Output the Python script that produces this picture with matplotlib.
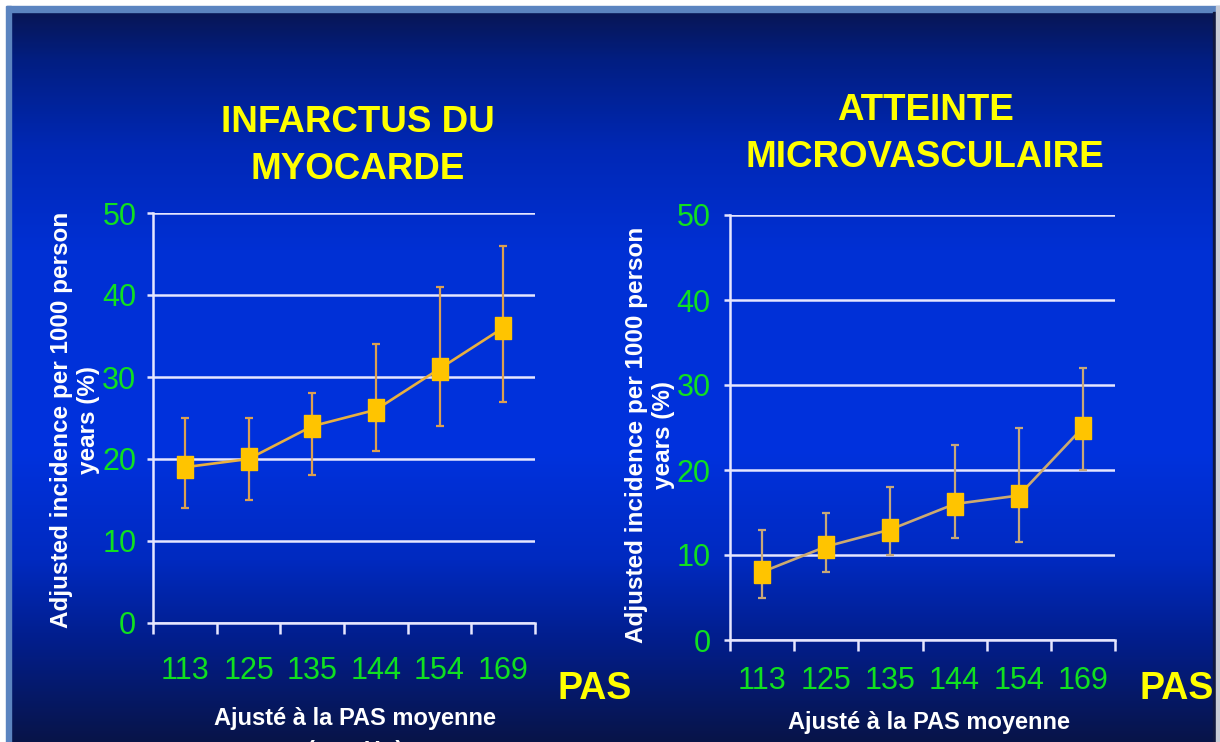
import numpy as np
import matplotlib
matplotlib.use("Agg")
import matplotlib.pyplot as plt
from matplotlib.patches import Rectangle

# ---------------- data ----------------
categories = ["113", "125", "135", "144", "154", "169"]

mi_values = [19, 20, 24, 26, 31, 36]
mi_low = [14, 15, 18, 21, 24, 27]
mi_high = [25, 25, 28, 34, 41, 46]

micro_values = [8, 11, 13, 16, 17, 25]
micro_low = [5, 8, 10, 12, 11.5, 20]
micro_high = [13, 15, 18, 23, 25, 32]

yticks = [0, 10, 20, 30, 40, 50]
title_left = "INFARCTUS DU\nMYOCARDE"
title_right = "ATTEINTE\nMICROVASCULAIRE"
ylabel = "Adjusted incidence per 1000 person\nyears (%)"
xlabel = "Ajusté à la PAS moyenne"
xlabel2 = "(mm Hg)"
pas_label = "PAS"

# ---------------- figure ----------------
W, H = 1220, 742
fig = plt.figure(figsize=(W / 100, H / 100), dpi=100)

def fx(px):
    return px / W

def fy(py):
    return 1 - py / H

# background gradient
bg = fig.add_axes([0, 0, 1, 1])
bg.set_axis_off()
stops_y = np.array([0, 12, 60, 150, 250, 450, 560, 640, 742]) / H
stops_c = np.array([
    [8, 22, 85], [8, 22, 85], [2, 30, 130], [0, 40, 182], [0, 48, 212],
    [0, 50, 222], [0, 42, 192], [2, 30, 140], [8, 20, 72]]) / 255.0
yy = np.linspace(0, 1, H)
grad = np.stack([np.interp(yy, stops_y, stops_c[:, k]) for k in range(3)], axis=-1)
grad = np.repeat(grad[:, None, :], 4, axis=1)
bg.imshow(grad, extent=[0, 1, 0, 1], aspect="auto", origin="upper", zorder=0)
bg.set_xlim(0, 1)
bg.set_ylim(0, 1)
# frame borders
bg.add_patch(Rectangle((0, fy(6)), 1, 6 / H, color="white", zorder=2))
bg.add_patch(Rectangle((0, fy(12)), 1, 6 / H, color="#5b84c0", zorder=2))
bg.add_patch(Rectangle((0, 0), fx(6), 1, color="white", zorder=3))
bg.add_patch(Rectangle((fx(6), 0), fx(5), fy(6), color="#5b84c0", zorder=3))
bg.add_patch(Rectangle((fx(1213), 0), fx(3), fy(12), color="#101840", zorder=3))
bg.add_patch(Rectangle((fx(1216), 0), fx(4), fy(6), color="#c8ccd6", zorder=3))

NARROW = ["Liberation Sans Narrow", "Liberation Sans", "DejaVu Sans"]
BOLD = ["Liberation Sans", "DejaVu Sans"]
GREEN = "#10e020"
YELLOW = "#ffff00"
AXC = "#e6e6ff"
marker_rect = [(-0.36, -0.5), (0.36, -0.5), (0.36, 0.5), (-0.36, 0.5), (-0.36, -0.5)]


def make_panel(rect, values, low, high, line_col, err_col, ypad, xpad):
    ax = fig.add_axes(rect)
    ax.set_facecolor("none")
    ax.patch.set_alpha(0)
    x = np.arange(len(categories)) + 0.5
    v = np.array(values, dtype=float)
    lo = v - np.array(low, dtype=float)
    hi = np.array(high, dtype=float) - v
    ax.errorbar(x, v, yerr=[lo, hi], fmt="none", ecolor=err_col, elinewidth=1.6,
                capsize=3, capthick=1.6, zorder=3)
    ax.plot(x, v, color=line_col, lw=1.9, zorder=4)
    ax.plot(x, v, linestyle="none", marker=marker_rect, markersize=16,
            markerfacecolor="#ffc400", markeredgecolor="#ffc400", zorder=5)
    ax.set_xlim(0, len(categories))
    ax.set_ylim(0, 50)
    for s in ["top", "right"]:
        ax.spines[s].set_visible(False)
    for s in ["left", "bottom"]:
        ax.spines[s].set_color(AXC)
        ax.spines[s].set_linewidth(1.8)
    ax.set_yticks(yticks)
    ax.set_yticklabels([str(t) for t in yticks])
    ax.yaxis.grid(True, color=AXC, lw=1.8)
    ax.set_axisbelow(True)
    ax.tick_params(axis="y", length=4, width=1.8, color=AXC, colors=GREEN,
                   labelsize=22, pad=ypad)
    for lab in ax.get_yticklabels():
        lab.set_family(NARROW)
        lab.set_color(GREEN)
    ax.set_xticks(np.arange(len(categories) + 1))
    ax.set_xticklabels([""] * (len(categories) + 1))
    ax.tick_params(axis="x", which="major", length=8, width=1.8, color=AXC)
    ax.set_xticks(x, minor=True)
    ax.set_xticklabels(categories, minor=True)
    ax.tick_params(axis="x", which="minor", length=0, labelsize=22,
                   labelcolor=GREEN, pad=xpad)
    for lab in ax.get_xticklabels(minor=True):
        lab.set_family(NARROW)
    return ax


axL = make_panel([fx(153), fy(623), fx(535) - fx(153), fy(213) - fy(623)],
                 mi_values, mi_low, mi_high, "#e8b040", "#dca050", 8, 24)
axR = make_panel([fx(730), fy(640), fx(1115) - fx(730), fy(215) - fy(640)],
                 micro_values, micro_low, micro_high, "#ccaa70", "#c8a878", 10, 19)

# titles
fig.text(fx(358), fy(146), title_left, ha="center", va="center", color=YELLOW,
         fontsize=26.5, fontweight="bold", family=BOLD, linespacing=1.42,
         multialignment="center")
fig.text(fx(925), fy(134), title_right, ha="center", va="center", color=YELLOW,
         fontsize=26.5, fontweight="bold", family=BOLD, linespacing=1.42,
         multialignment="center")

# y labels
fig.text(fx(75), fy(420), ylabel, rotation=90, ha="center", va="center",
         color="white", fontsize=17.5, fontweight="bold", family=BOLD,
         multialignment="center", linespacing=1.2)
fig.text(fx(650), fy(435), ylabel, rotation=90, ha="center", va="center",
         color="white", fontsize=17.5, fontweight="bold", family=BOLD,
         multialignment="center", linespacing=1.2)

# PAS labels
fig.text(fx(595), fy(689), pas_label, ha="center", va="center", color=YELLOW,
         fontsize=27, fontweight="bold", family=BOLD)
fig.text(fx(1177), fy(689), pas_label, ha="center", va="center", color=YELLOW,
         fontsize=27, fontweight="bold", family=BOLD)

# x labels
fig.text(fx(355), fy(718), xlabel, ha="center", va="center", color="white",
         fontsize=17, fontweight="bold", family=NARROW)
fig.text(fx(355), fy(752), xlabel2, ha="center", va="center", color="white",
         fontsize=17, fontweight="bold", family=NARROW)
fig.text(fx(929), fy(722), xlabel, ha="center", va="center", color="white",
         fontsize=17, fontweight="bold", family=NARROW)

fig.savefig("out.png", dpi=100)
